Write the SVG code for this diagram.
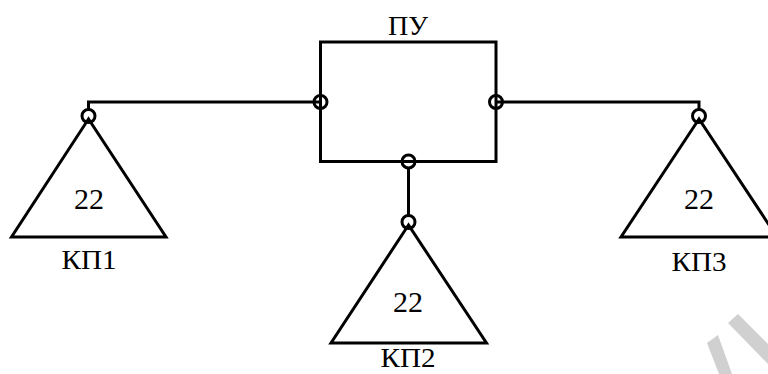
<svg xmlns="http://www.w3.org/2000/svg" width="768" height="374" viewBox="0 0 768 374">
<style>
.ln{fill:none;stroke:#000;stroke-width:3;stroke-linejoin:miter}
.pt{fill:none;stroke:#000;stroke-width:3}
.t{font-family:"Liberation Serif","Times New Roman",serif;fill:#000;text-anchor:middle}
.lbl{font-size:28px}
.num{font-size:30px}
.wm{fill:#d0d0d0}
</style>
<rect width="768" height="374" fill="#fff"/>
<g id="watermark">
<polygon class="wm" points="728,323 738,314 768,344 768,364"/>
<polygon class="wm" points="707,343 718,335 732,374 719,374"/>
</g>
<g id="connectors">
<polyline class="ln" points="320.5,102 88.5,102 88.5,110"/>
<polyline class="ln" points="496,102 699,102 699,110"/>
<line class="ln" x1="408.5" y1="168" x2="408.5" y2="216"/>
</g>
<g id="pu">
<rect class="ln" x="320.5" y="42" width="175.5" height="119.5"/>
<circle class="pt" cx="320.5" cy="102" r="6.5"/>
<circle class="pt" cx="496" cy="102" r="6.5"/>
<circle class="pt" cx="408.5" cy="161.5" r="6.5"/>
<text class="t lbl" x="408" y="35" textLength="40" lengthAdjust="spacingAndGlyphs">ПУ</text>
</g>
<g id="kp1">
<polygon class="ln" points="88.5,119 11.5,237 166,237"/>
<circle class="pt" cx="88.5" cy="116" r="6.5"/>
<text class="t num" x="89" y="209">22</text>
<text class="t lbl" x="89" y="269" textLength="55" lengthAdjust="spacingAndGlyphs">КП1</text>
</g>
<g id="kp2">
<polygon class="ln" points="408.5,225 331,343 486.5,343"/>
<circle class="pt" cx="408.5" cy="222" r="6.5"/>
<text class="t num" x="408" y="312">22</text>
<text class="t lbl" x="408" y="367" textLength="55" lengthAdjust="spacingAndGlyphs">КП2</text>
</g>
<g id="kp3">
<polygon class="ln" points="699,119 621,237 777,237"/>
<circle class="pt" cx="699" cy="116" r="6.5"/>
<text class="t num" x="699" y="209">22</text>
<text class="t lbl" x="699" y="271" textLength="55" lengthAdjust="spacingAndGlyphs">КП3</text>
</g>
</svg>
